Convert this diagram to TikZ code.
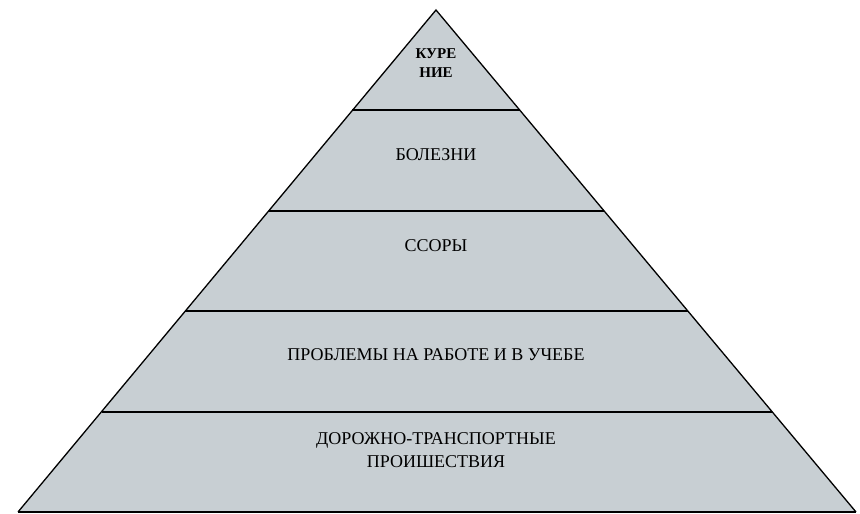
\documentclass[tikz,border=0pt]{standalone}
\usepackage{fontspec}
\setmainfont{Liberation Serif}
\usetikzlibrary{calc, positioning}
\definecolor{layergray}{RGB}{200,207,211}

\begin{document}
\begin{tikzpicture}[x=1pt, y=1pt]

    \useasboundingbox (0,0) rectangle (860,514); % same size as the scan

    \coordinate (apex) at (436,504);
    \coordinate (bl)   at (18,2);
    \coordinate (br)   at (856,2);

    % pyramid body
    \fill [layergray] (apex) -- (bl) -- (br) -- cycle;
    \draw [line width=1.3pt, line join=miter] (bl) -- (apex) -- (br);
    \draw [line width=1.6pt] (bl) -- (br);

    % band borders at equal steps down the sides
    \foreach \f/\n in {0.2/a, 0.4/b, 0.6/c, 0.8/d} {
        \coordinate (l\n) at ($(apex)!\f!(bl)$);
        \coordinate (r\n) at ($(apex)!\f!(br)$);
        \draw [line width=1.9pt] (l\n) -- (r\n);
    }

    \begin{scope}[every node/.style={align=center, inner sep=0pt, font=\fontsize{18}{23}\selectfont}]
        \node (smoke) [font=\fontsize{15}{19}\selectfont\bfseries] at (436,451) {КУРЕ\\НИЕ};
        \node (ill)     at (436,359) {БОЛЕЗНИ};
        \node (quarrel) at (436,268) {ССОРЫ};
        \node (work)    at (436,159) {ПРОБЛЕМЫ НА РАБОТЕ И В УЧЕБЕ};
        \node (road)    at (436,64)  {ДОРОЖНО-ТРАНСПОРТНЫЕ\\ПРОИШЕСТВИЯ};
    \end{scope}

\end{tikzpicture}
\end{document}
